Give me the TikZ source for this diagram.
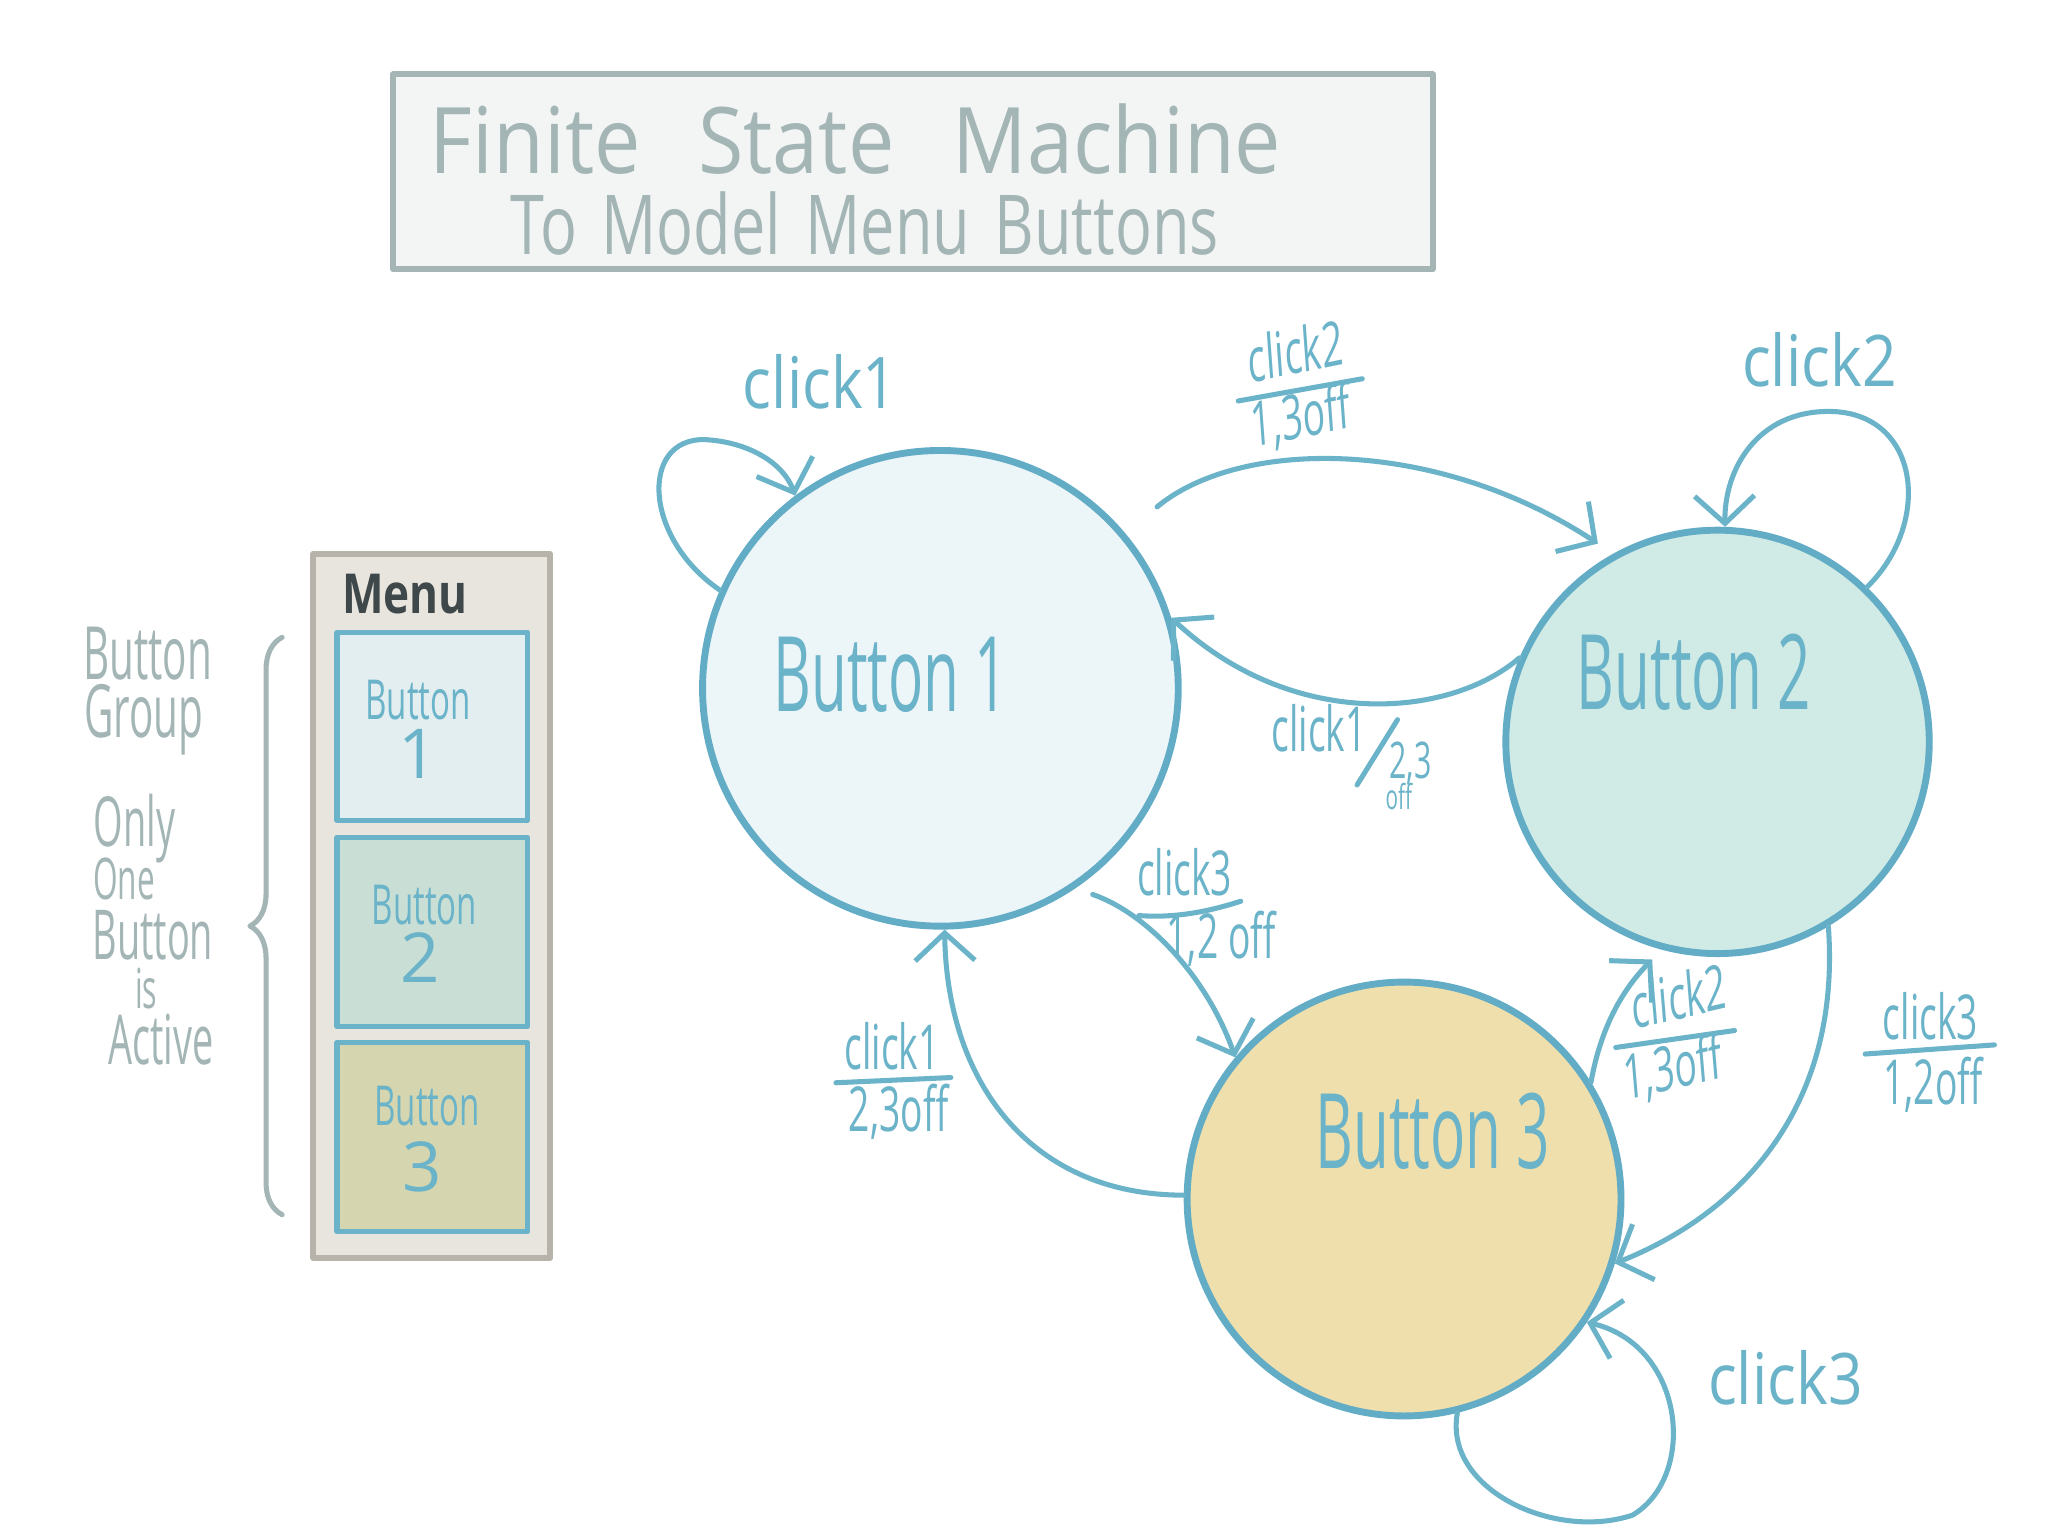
\documentclass[tikz,border=0pt]{standalone}
\usepackage{fontspec}
\setmainfont{Open Sans}
\usetikzlibrary{arrows.meta,decorations.pathreplacing}
\definecolor{fsmblue}{HTML}{62ACC6}
\definecolor{lblblue}{HTML}{6AB3C9}
\definecolor{notegray}{HTML}{A3B5B5}
\definecolor{titlefill}{HTML}{F3F5F4}
\definecolor{titleline}{HTML}{A5B4B4}
\definecolor{menufill}{HTML}{E8E5DF}
\definecolor{menuline}{HTML}{B7B3AB}
\definecolor{menutext}{HTML}{3E4749}
\definecolor{bonefill}{HTML}{E3EEF0}
\definecolor{btwofill}{HTML}{C9DFD5}
\definecolor{bthreefill}{HTML}{D5D6AF}
\definecolor{sonefill}{HTML}{ECF5F8}
\definecolor{stwofill}{HTML}{D0EBE5}
\definecolor{sthreefill}{HTML}{EEDFAC}
\begin{document}
\begin{tikzpicture}[x=0.01cm, y=-0.01cm, line cap=round, line join=round,
  state/.style={circle, draw=fsmblue, line width=1.5pt, inner sep=0pt},
  stxt/.style={font=\fontsize{22.7}{26}\selectfont, text=lblblue, anchor=base, xscale=0.56},
  lbl/.style={font=\fontsize{13.5}{16}\selectfont, text=lblblue, anchor=base, xscale=0.6, inner sep=0pt},
  looplbl/.style={font=\fontsize{15.5}{18}\selectfont, text=lblblue, anchor=base, xscale=0.85},
  side/.style={font=\fontsize{16}{19}\selectfont, text=notegray, anchor=base, xscale=0.55, inner sep=0pt},
  btxt/.style={font=\fontsize{12}{14}\selectfont, text=lblblue, anchor=base, xscale=0.6},
  bnum/.style={font=\fontsize{15}{18}\selectfont, text=lblblue, anchor=base},
  ttl/.style={text=notegray, anchor=base},
  trans/.style={draw=lblblue, line width=1.1pt, -{Straight Barb[length=6pt,width=13pt,line width=1.1pt]}},
  bar/.style={draw=lblblue, line width=1.1pt},
  mbox/.style={draw=lblblue, line width=1.1pt}]
\useasboundingbox[fill=white] (0,0) rectangle (1568,1176);

\draw[titleline, fill=titlefill, line width=1.3pt] (301,57) rectangle (1097,206);
\node[ttl, font=\fontsize{20}{24}\selectfont, xscale=0.9] (ttl1) at (655,133) {Finite\hspace{0.7em}State\hspace{0.7em}Machine};
\node[ttl, font=\fontsize{18}{22}\selectfont, xscale=0.74] (ttl2) at (662,195) {To\hspace{0.4em}Model\hspace{0.4em}Menu\hspace{0.4em}Buttons};

\draw[menuline, fill=menufill, line width=1.3pt] (240,424) rectangle (421,963);
\node[anchor=base, text=menutext, font=\fontsize{12}{14}\selectfont\bfseries, xscale=0.8] (menu) at (310,470) {Menu};
\draw[mbox, fill=bonefill] (258,484) rectangle (404,628);
\draw[mbox, fill=btwofill] (258,641) rectangle (404,786);
\draw[mbox, fill=bthreefill] (258,798) rectangle (404,943);
\node[btxt] (mb1) at (320,551) {Button};
\node[bnum] (mn1) at (320,596) {1};
\node[btxt] (mb2) at (325,708) {Button};
\node[bnum] (mn2) at (322,752) {2};
\node[btxt] (mb3) at (327,862) {Button};
\node[bnum] (mn3) at (323,912) {3};

\draw[notegray, line width=1.1pt, decorate, decoration={brace, amplitude=7pt}] (216,930) -- (216,488);
\node[side] (g1) at (113,520) {Button};
\node[side] (g2) at (110,565) {Group};
\node[side, font=\fontsize{15}{18}\selectfont] (g3) at (103,648) {Only};
\node[side, font=\fontsize{12.5}{15}\selectfont] (g4) at (95,689) {One};
\node[side, font=\fontsize{15}{18}\selectfont] (g5) at (117,735) {Button};
\node[side, font=\fontsize{12}{14}\selectfont] (g6) at (112,772) {is};
\node[side, font=\fontsize{15}{18}\selectfont] (g7) at (123,815) {Active};

\node[state, fill=sonefill, minimum size=3.64cm] (st1) at (720,527) {};
\node[state, fill=stwofill, minimum size=3.24cm] (st2) at (1315,568) {};
\node[state, fill=sthreefill, minimum size=3.32cm] (st3) at (1075,918) {};
\node[stxt] (t1) at (682,545) {Button 1};
\node[stxt] (t2) at (1297,543) {Button 2};
\node[stxt] (t3) at (1097,895) {Button 3};

\draw[trans] (st1.156) .. controls (490,410) and (490,330) .. (545,337) .. controls (575,340) and (600,355) .. (st1.127);
\draw[trans, shorten <=9pt, shorten >=4pt] (st1.40) .. controls (950,335) and (1100,335) .. (st2.119);
\draw[trans] (st2.157) .. controls (1110,550) and (990,560) .. (st1.17);
\draw[trans, shorten <=4pt] (st1.-56) .. controls (880,700) and (925,750) .. (st3.140);
\draw[trans] (st3.179) .. controls (790,915) and (725,830) .. (st1.-89);
\draw[trans, shorten >=3pt] (st3.32) .. controls (1225,790) and (1240,760) .. (st2.-105);
\draw[trans] (st2.-59) .. controls (1410,850) and (1330,930) .. (st3.-17);
\draw[trans] (st2.46) .. controls (1480,400) and (1470,315) .. (1400,315) .. controls (1345,315) and (1320,360) .. (st2.88);
\draw[trans] (st3.-76) .. controls (1105,1140) and (1190,1180) .. (1250,1160) .. controls (1300,1130) and (1290,1030) .. (st3.-34);

\node[looplbl] (l11) at (628,313) {click1};
\node[looplbl] (l22) at (1393,296) {click2};
\node[looplbl] (l33) at (1367,1075) {click3};

\node[lbl, rotate=7] (n12) at (993,286) {click2};
\draw[bar] (948,307) -- (1043,290);
\node[lbl, rotate=7] (d12) at (997,335) {1,3off};

\node[lbl] (n21) at (1010,575) {click1};
\draw[bar] (1039,601) -- (1070,551);
\node[lbl, font=\fontsize{11}{13}\selectfont] (d21) at (1080,596) {2,3};
\node[lbl, font=\fontsize{7.5}{9}\selectfont] (o21) at (1071,620) {off};

\node[lbl] (n13) at (907,686) {click3};
\draw[bar] (872,701) .. controls (900,703) and (925,698) .. (950,690);
\node[lbl] (d13) at (935,734) {1,2 off};

\node[lbl] (n31) at (683,819) {click1};
\draw[bar] (640,829) -- (728,825);
\node[lbl] (d31) at (688,866) {2,3off};

\node[lbl, rotate=8] (n32) at (1287,780) {click2};
\draw[bar] (1237,802) -- (1328,789);
\node[lbl, rotate=8] (d32) at (1282,834) {1,3off};

\node[lbl] (n23) at (1478,796) {click3};
\draw[bar] (1428,807) -- (1527,800);
\node[lbl] (d23) at (1480,846) {1,2off};
\end{tikzpicture}
\end{document}
